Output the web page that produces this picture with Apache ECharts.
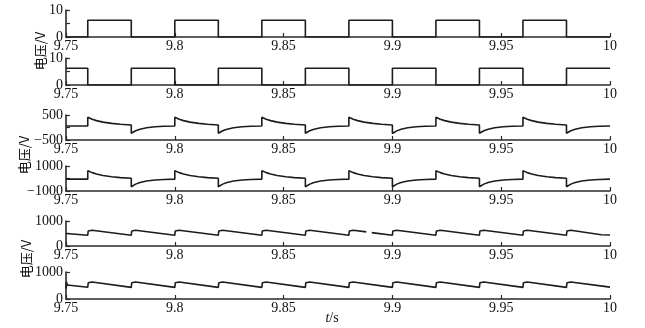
<!DOCTYPE html>
<html>
<head>
<meta charset="utf-8">
<script src="https://cdn.jsdelivr.net/npm/echarts@6/dist/echarts.min.js"></script>
<style>
html,body{margin:0;padding:0;background:#fff;}
#c{width:645px;height:328px;}
</style>
</head>
<body>
<div id="c"></div>
<script>
// ---- data ----
const xTicks = [9.75, 9.8, 9.85, 9.9, 9.95, 10];
const yName = '电压/V';
const xName = 't/s';

const gate1 = [[9.75,0],[9.76,0],[9.76,6.2],[9.78,6.2],[9.78,0],
  [9.80,0],[9.80,6.2],[9.82,6.2],[9.82,0],
  [9.84,0],[9.84,6.2],[9.86,6.2],[9.86,0],
  [9.88,0],[9.88,6.2],[9.90,6.2],[9.90,0],
  [9.92,0],[9.92,6.2],[9.94,6.2],[9.94,0],
  [9.96,0],[9.96,6.2],[9.98,6.2],[9.98,0],[10,0]];

const gate2 = [[9.75,6.2],[9.76,6.2],[9.76,0],[9.78,0],[9.78,6.2],
  [9.80,6.2],[9.80,0],[9.82,0],[9.82,6.2],
  [9.84,6.2],[9.84,0],[9.86,0],[9.86,6.2],
  [9.88,6.2],[9.88,0],[9.90,0],[9.90,6.2],
  [9.92,6.2],[9.92,0],[9.94,0],[9.94,6.2],
  [9.96,6.2],[9.96,0],[9.98,0],[9.98,6.2],[10,6.2]];

const volt3 = [[9.75,60],[9.76,60],
  [9.76,410],[9.762,330],[9.764,275],[9.767,215],[9.771,165],[9.775,130],[9.78,100],
  [9.78,-230],[9.782,-130],[9.784,-70],[9.787,-10],[9.791,30],[9.795,50],[9.80,60],
  [9.80,410],[9.802,330],[9.804,275],[9.807,215],[9.811,165],[9.815,130],[9.82,100],
  [9.82,-230],[9.822,-130],[9.824,-70],[9.827,-10],[9.831,30],[9.835,50],[9.84,60],
  [9.84,410],[9.842,330],[9.844,275],[9.847,215],[9.851,165],[9.855,130],[9.86,100],
  [9.86,-230],[9.862,-130],[9.864,-70],[9.867,-10],[9.871,30],[9.875,50],[9.88,60],
  [9.88,410],[9.882,330],[9.884,275],[9.887,215],[9.891,165],[9.895,130],[9.90,100],
  [9.90,-240],[9.902,-135],[9.904,-70],[9.907,-10],[9.911,30],[9.915,50],[9.92,60],
  [9.92,410],[9.922,330],[9.924,275],[9.927,215],[9.931,165],[9.935,130],[9.94,100],
  [9.94,-230],[9.942,-130],[9.944,-70],[9.947,-10],[9.951,30],[9.955,50],[9.96,60],
  [9.96,410],[9.962,330],[9.964,275],[9.967,215],[9.971,165],[9.975,130],[9.98,100],
  [9.98,-230],[9.982,-130],[9.984,-70],[9.987,-10],[9.991,30],[9.995,50],[10,60]];

const volt4 = [[9.75,-50],[9.76,-50],
  [9.76,620],[9.762,470],[9.764,360],[9.767,240],[9.771,140],[9.775,70],[9.78,20],
  [9.78,-660],[9.782,-450],[9.784,-320],[9.787,-200],[9.791,-120],[9.795,-80],[9.80,-50],
  [9.80,620],[9.802,470],[9.804,360],[9.807,240],[9.811,140],[9.815,70],[9.82,20],
  [9.82,-660],[9.822,-450],[9.824,-320],[9.827,-200],[9.831,-120],[9.835,-80],[9.84,-50],
  [9.84,620],[9.842,470],[9.844,360],[9.847,240],[9.851,140],[9.855,70],[9.86,20],
  [9.86,-660],[9.862,-450],[9.864,-320],[9.867,-200],[9.871,-120],[9.875,-80],[9.88,-50],
  [9.88,620],[9.882,470],[9.884,360],[9.887,240],[9.891,140],[9.895,70],[9.90,20],
  [9.90,-660],[9.902,-450],[9.904,-320],[9.907,-200],[9.911,-120],[9.915,-80],[9.92,-50],
  [9.92,620],[9.922,470],[9.924,360],[9.927,240],[9.931,140],[9.935,70],[9.94,20],
  [9.94,-660],[9.942,-450],[9.944,-320],[9.947,-200],[9.951,-120],[9.955,-80],[9.96,-50],
  [9.96,620],[9.962,470],[9.964,360],[9.967,240],[9.971,140],[9.975,70],[9.98,20],
  [9.98,-660],[9.982,-450],[9.984,-320],[9.987,-200],[9.991,-120],[9.995,-80],[10,-50]];

const volt5 = [[9.75,500],[9.76,430],
  [9.7602,600],[9.761,660],[9.762,630],[9.78,430],
  [9.7802,600],[9.781,660],[9.782,630],[9.80,430],
  [9.8002,600],[9.801,660],[9.802,630],[9.82,430],
  [9.8202,600],[9.821,660],[9.822,630],[9.84,430],
  [9.8402,600],[9.841,660],[9.842,630],[9.86,430],
  [9.8602,600],[9.861,660],[9.862,630],[9.88,430],
  [9.8802,600],[9.881,660],[9.882,630],[9.888,565],[9.889,null],[9.8905,535],[9.90,430],
  [9.9002,600],[9.901,660],[9.902,630],[9.92,430],
  [9.9202,600],[9.921,660],[9.922,630],[9.94,430],
  [9.9402,600],[9.941,660],[9.942,630],[9.96,430],
  [9.9602,600],[9.961,660],[9.962,630],[9.98,430],
  [9.9802,600],[9.981,660],[9.982,630],[9.996,450],[10,440]];

const volt6 = [[9.75,380],[9.7502,640],[9.7506,520],[9.76,435],
  [9.7602,600],[9.761,650],[9.762,630],[9.78,430],
  [9.7802,600],[9.781,650],[9.782,630],[9.80,430],
  [9.8002,600],[9.801,650],[9.802,630],[9.82,430],
  [9.8202,600],[9.821,650],[9.822,630],[9.84,430],
  [9.8402,600],[9.841,650],[9.842,630],[9.86,430],
  [9.8602,600],[9.861,650],[9.862,630],[9.88,430],
  [9.8802,600],[9.881,650],[9.882,630],[9.90,430],
  [9.9002,600],[9.901,650],[9.902,630],[9.92,430],
  [9.9202,600],[9.921,650],[9.922,630],[9.94,430],
  [9.9402,600],[9.941,650],[9.942,630],[9.96,430],
  [9.9602,600],[9.961,650],[9.962,630],[9.98,430],
  [9.9802,600],[9.981,650],[9.982,630],[10,440]];

const seriesData = [gate1, gate2, volt3, volt4, volt5, volt6];
const yMin = [0, 0, -500, -1000, 0, 0];
const yMax = [10, 10, 500, 1000, 1000, 1000];
const yStep = [5, 5, 500, 1000, 500, 500];

// ---- layout ----
const gridTop = [10, 58, 115, 166, 221, 272];
const gridH = [27, 27, 25, 25, 25, 27];

const AX = '#2a2a2a';
const SERIF = '"Liberation Serif","DejaVu Serif",serif';

const grids = [], xAxes = [], yAxes = [], series = [];
for (let i = 0; i < 6; i++) {
  grids.push({left: 66, right: 35, top: gridTop[i], height: gridH[i], containLabel: false});
  xAxes.push({
    type: 'value', gridIndex: i, min: 9.75, max: 10, interval: 0.05,
    axisLine: {show: true, onZero: false, lineStyle: {color: AX, width: 1.6}},
    axisTick: {show: true, inside: true, length: 4, lineStyle: {color: AX, width: 1.2}},
    splitLine: {show: false},
    axisLabel: {
      color: '#111', fontFamily: SERIF, fontSize: 14, margin: 2,
      formatter: v => String(Math.round(v * 100) / 100)
    }
  });
  const mn = yMin[i], mx = yMax[i];
  yAxes.push({
    type: 'value', gridIndex: i, min: mn, max: mx, interval: yStep[i],
    axisLine: {show: true, onZero: false, lineStyle: {color: AX, width: 1.6}},
    axisTick: {show: true, inside: true, length: 4, lineStyle: {color: AX, width: 1.2}},
    splitLine: {show: false},
    axisLabel: {
      color: '#111', fontFamily: SERIF, fontSize: 14, margin: 3,
      formatter: v => (v === mn || v === mx) ? String(v).replace('-', '\u2212') : ''
    }
  });
  series.push({
    type: 'line', xAxisIndex: i, yAxisIndex: i, data: seriesData[i],
    showSymbol: false, symbol: 'none', animation: false, connectNulls: false,
    lineStyle: {color: '#1c1c1c', width: 1.6}
  });
}

const chart = echarts.init(document.getElementById('c'), null, {renderer: 'canvas'});
chart.setOption({
  backgroundColor: '#fff',
  animation: false,
  grid: grids, xAxis: xAxes, yAxis: yAxes, series: series,
  graphic: [
    {type: 'text', x: 40, y: 51, rotation: Math.PI / 2,
     style: {text: yName, font: '13px "Noto Sans CJK SC", sans-serif', fill: '#111', textAlign: 'center', textVerticalAlign: 'middle'}},
    {type: 'text', x: 24, y: 155, rotation: Math.PI / 2,
     style: {text: yName, font: '13px "Noto Sans CJK SC", sans-serif', fill: '#111', textAlign: 'center', textVerticalAlign: 'middle'}},
    {type: 'text', x: 26, y: 259, rotation: Math.PI / 2,
     style: {text: yName, font: '13px "Noto Sans CJK SC", sans-serif', fill: '#111', textAlign: 'center', textVerticalAlign: 'middle'}},
    {type: 'text', x: 332, y: 318,
     style: {text: '{i|t}{n|/s}', textAlign: 'center', textVerticalAlign: 'middle',
       rich: {i: {fontStyle: 'italic', fontFamily: SERIF, fontSize: 14, fill: '#111'},
              n: {fontFamily: SERIF, fontSize: 14, fill: '#111'}}}}
  ]
});
</script>
</body>
</html>
